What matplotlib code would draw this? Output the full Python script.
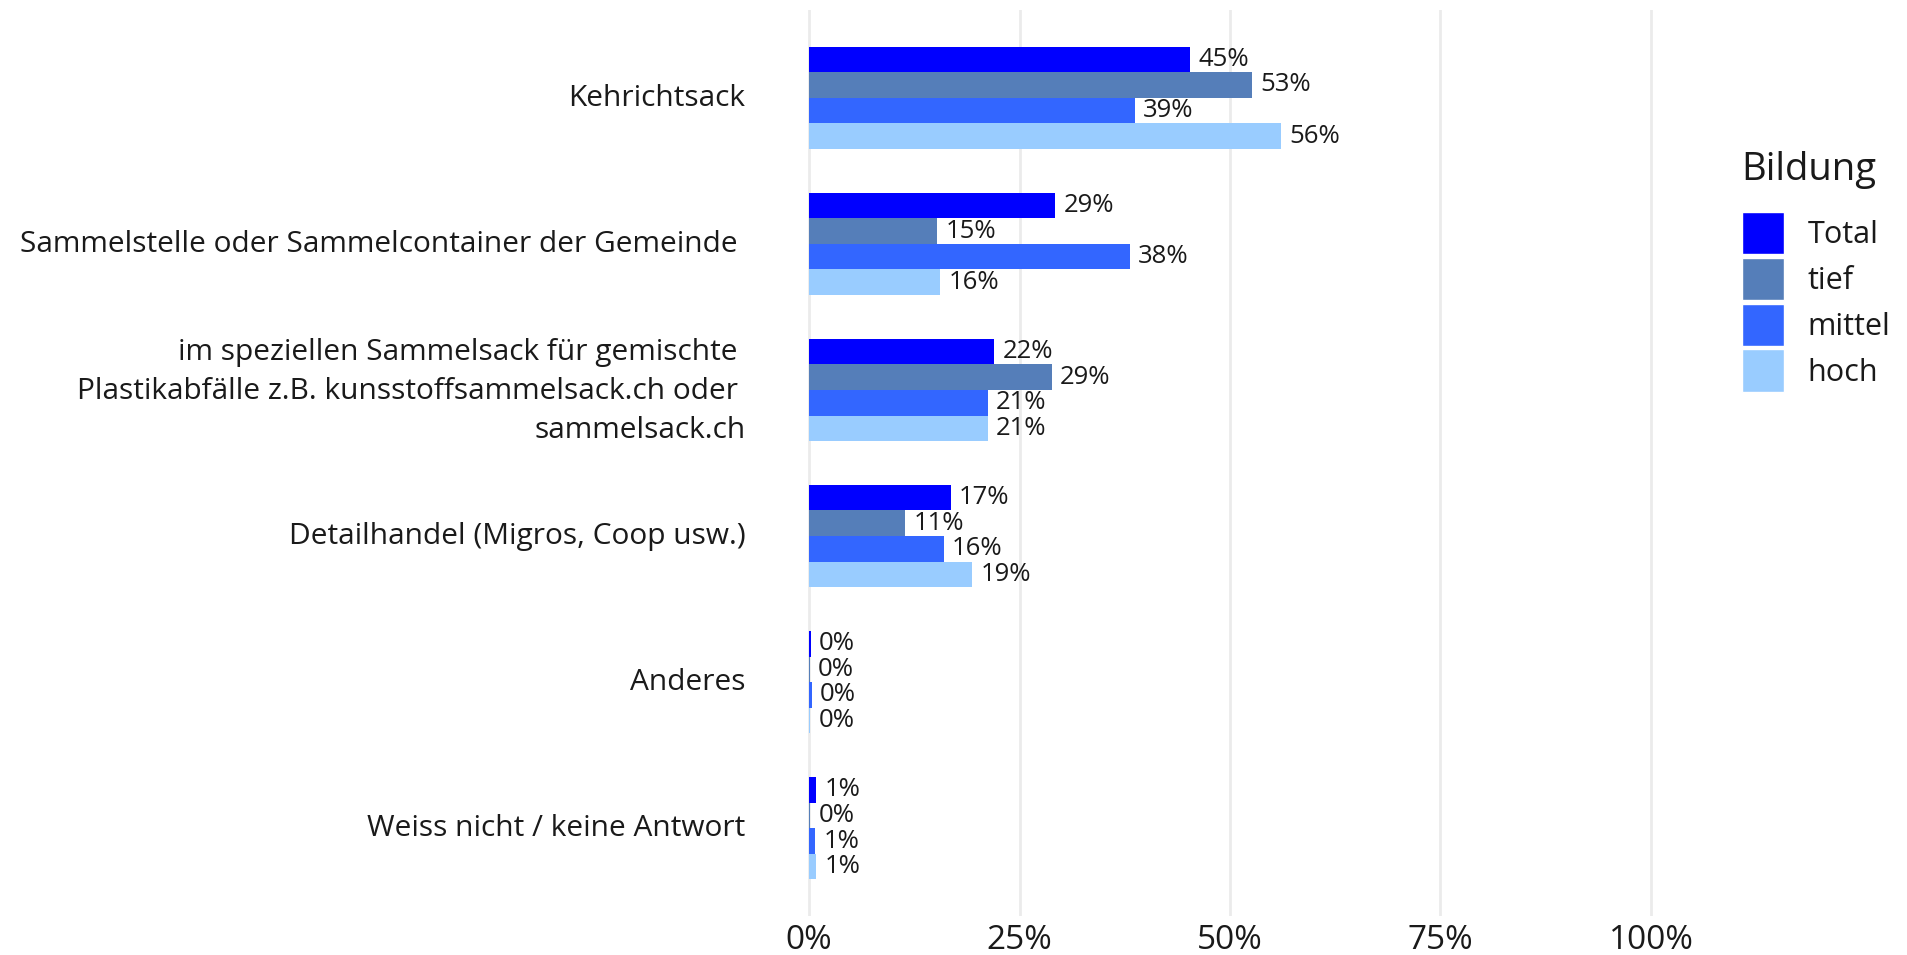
import matplotlib
matplotlib.use("Agg")
import matplotlib.pyplot as plt
import matplotlib.transforms as mtransforms
from matplotlib.patches import Patch
import numpy as np

plt.rcParams['font.family'] = ['Open Sans', 'DejaVu Sans']

categories = [
    "Kehrichtsack",
    "Sammelstelle oder Sammelcontainer der Gemeinde ",
    "im speziellen Sammelsack für gemischte \nPlastikabfälle z.B. kunsstoffsammelsack.ch oder \nsammelsack.ch",
    "Detailhandel (Migros, Coop usw.)",
    "Anderes",
    "Weiss nicht / keine Antwort",
]
groups = ["Total", "tief", "mittel", "hoch"]
colors = ["#0000FF", "#557EB9", "#3366FF", "#99CCFF"]

total = [0.452, 0.292, 0.220, 0.168, 0.002, 0.008]
tief = [0.526, 0.152, 0.288, 0.114, 0.0005, 0.001]
mittel = [0.387, 0.381, 0.212, 0.160, 0.003, 0.007]
hoch = [0.561, 0.156, 0.212, 0.194, 0.001, 0.008]
series = [total, tief, mittel, hoch]

text_col = "#1A1A1A"

W, H = 1908, 955
fig = plt.figure(figsize=(W / 100, H / 100), dpi=100)
# panel: x 0 -> 809px, 1 -> 1651px ; y from 10px to 916px
ax = fig.add_axes([767 / W, 1 - 916 / H, (1693 - 767) / W, (916 - 10) / H])

n = len(categories)
y = np.arange(n)[::-1] + 1.0
h = 0.7 / 4
for i, (vals, col) in enumerate(zip(series, colors)):
    ypos = y + 0.35 - h * (i + 0.5)
    ax.barh(ypos, vals, height=h, color=col, zorder=2)
    for yy, v in zip(ypos, vals):
        ax.text(v + 0.01, yy, f"{round(v * 100):.0f}%", va="center", ha="left",
                fontsize=18.5, color=text_col, zorder=3)

ax.set_xlim(-0.05, 1.05)
ax.set_ylim(0.4, n + 0.6)
ax.set_xticks([0, 0.25, 0.5, 0.75, 1.0])
ax.set_xticklabels(["0%", "25%", "50%", "75%", "100%"])
ax.set_yticks(y)
ax.set_yticklabels(categories, linespacing=1.45)
ax.grid(axis="x", color="#EBEBEB", linewidth=2.0, zorder=0)
ax.grid(axis="y", visible=False)
for s in ax.spines.values():
    s.set_visible(False)
ax.tick_params(axis="both", length=0, colors=text_col)
ax.tick_params(axis="y", labelsize=21.5, pad=15.5)
ax.tick_params(axis="x", labelsize=24, pad=6)

# category labels sit slightly above the bar-group centres
for lab in ax.get_yticklabels():
    up = 7 if "\n" in lab.get_text() else 3
    shift = mtransforms.ScaledTranslation(0, up / 100, fig.dpi_scale_trans)
    lab.set_transform(lab.get_transform() + shift)

fig.text(1741 / W, 1 - 180 / H, "Bildung", fontsize=27.5, color=text_col,
         ha="left", va="baseline")
handles = [Patch(facecolor=c, edgecolor="white", linewidth=1.0) for c in colors]
leg = fig.legend(handles, groups, loc="upper left",
                 bbox_to_anchor=(1742 / W, 1 - 212 / H), frameon=False,
                 fontsize=22, handlelength=1.39, handleheight=1.76,
                 handletextpad=0.75, labelspacing=0.11, borderpad=0, borderaxespad=0)
for t in leg.get_texts():
    t.set_color(text_col)

fig.savefig("out.png", dpi=100)
